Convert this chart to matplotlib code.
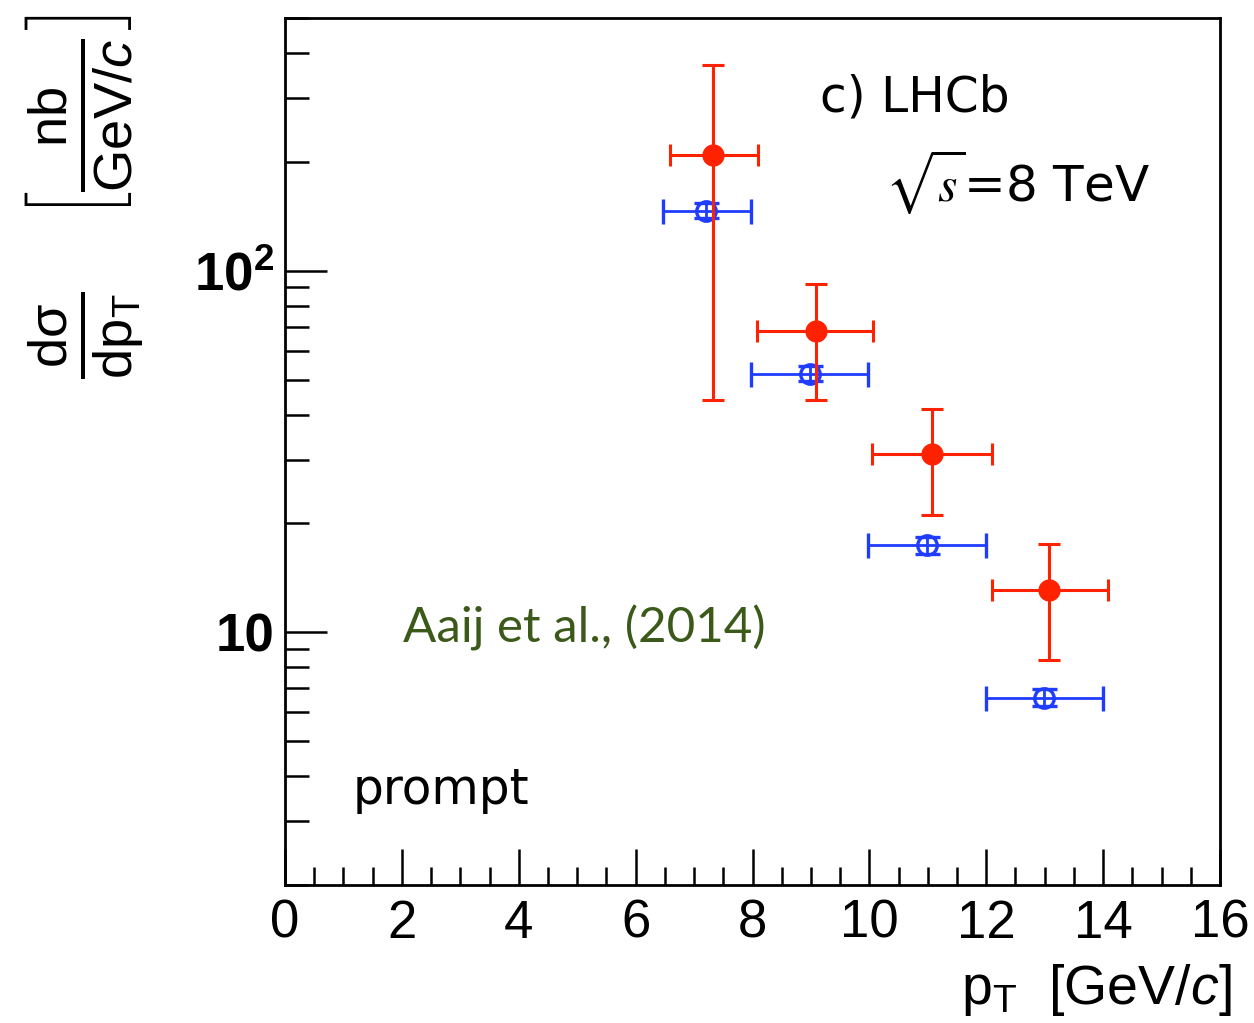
"""Prompt differential cross-section vs pT, LHCb at sqrt(s) = 8 TeV."""

import matplotlib
matplotlib.use('Agg')
import matplotlib.pyplot as plt
import numpy as np
from matplotlib.ticker import FixedLocator, FuncFormatter, LogLocator, NullFormatter

plt.rcParams['mathtext.fontset'] = 'custom'
plt.rcParams['mathtext.rm'] = 'Liberation Sans'
plt.rcParams['mathtext.it'] = 'Liberation Sans:italic'
plt.rcParams['mathtext.bf'] = 'Liberation Sans:bold'

# ── Data: measurement (filled, red) ─────────────────────────────────────────
red_pt    = np.array([7.33, 9.09, 11.08, 13.07])
red_pt_lo = np.array([6.58, 8.08, 10.05, 12.09])
red_pt_hi = np.array([8.10, 10.07, 12.10, 14.09])
red_xs    = np.array([209.0, 68.0, 31.1, 13.1])
red_xs_lo = np.array([44.0, 44.0, 21.1, 8.4])
red_xs_hi = np.array([370.0, 92.0, 41.5, 17.5])

# ── Data: comparison (open, blue) ───────────────────────────────────────────
blue_pt    = np.array([7.21, 8.99, 10.98, 12.98])
blue_pt_lo = np.array([6.47, 7.98, 9.97, 12.00])
blue_pt_hi = np.array([7.98, 9.98, 12.00, 13.99])
blue_xs    = np.array([146.6, 51.9, 17.4, 6.6])
blue_xs_lo = np.array([139.5, 49.4, 16.5, 6.25])
blue_xs_hi = np.array([154.0, 54.5, 18.3, 6.95])

x_ticks = [0, 2, 4, 6, 8, 10, 12, 14, 16]

RED  = '#ff2200'
BLUE = '#1f3cff'
W, H = 1254, 1023

fig = plt.figure(figsize=(W / 100, H / 100), dpi=100)
ax = fig.add_axes([285 / W, 1 - 885 / H, (1220 - 285) / W, (885 - 18) / H])

ax.errorbar(blue_pt, blue_xs,
            xerr=[blue_pt - blue_pt_lo, blue_pt_hi - blue_pt],
            yerr=[blue_xs - blue_xs_lo, blue_xs_hi - blue_xs],
            fmt='o', ms=14, mfc='none', mec=BLUE, mew=2.4, color=BLUE,
            elinewidth=2, capsize=9, capthick=2.2, zorder=3)
ax.errorbar(red_pt, red_xs,
            xerr=[red_pt - red_pt_lo, red_pt_hi - red_pt],
            yerr=[red_xs - red_xs_lo, red_xs_hi - red_xs],
            fmt='o', ms=15, mfc=RED, mec=RED, color=RED,
            elinewidth=2.2, capsize=8, capthick=2.2, zorder=4)

ax.set_yscale('log')
ax.set_xlim(0, 16)
ax.set_ylim(2.0, 500)

# axis styling: ticks inside, bottom/left only
for s in ax.spines.values():
    s.set_linewidth(2)
ax.xaxis.set_major_locator(FixedLocator(x_ticks))
ax.xaxis.set_minor_locator(FixedLocator(np.arange(0, 16.01, 0.5)))
ax.yaxis.set_major_locator(FixedLocator([10, 100]))
ax.yaxis.set_minor_locator(LogLocator(base=10, subs=np.arange(2, 10)))
ax.yaxis.set_minor_formatter(NullFormatter())
ax.yaxis.set_major_formatter(FuncFormatter(
    lambda v, _: '10' if v < 50 else r'10$^{\mathdefault{2}}$'))
ax.tick_params(which='both', direction='in', top=False, right=False,
               width=1.8, labelsize=38)
ax.tick_params(axis='x', which='major', length=26, pad=10)
ax.tick_params(axis='x', which='minor', length=13)
ax.tick_params(axis='y', which='major', length=30, pad=8)
ax.tick_params(axis='y', which='minor', length=17)
for lab in ax.get_xticklabels():
    lab.set_family('Liberation Sans')
for lab in ax.get_yticklabels():
    lab.set_family('Liberation Sans')
    lab.set_fontweight('bold')

# ── Annotations ─────────────────────────────────────────────────────────────
fig.text(820 / W, 1 - 97 / H, 'c) LHCb', fontsize=35, family='DejaVu Sans',
         va='center', ha='left')
fig.text(885 / W, 1 - 182 / H, r'$\sqrt{s}$=8 TeV', fontsize=36,
         family='DejaVu Sans', math_fontfamily='stix', va='center', ha='left')
fig.text(403 / W, 1 - 628 / H, 'Aaij et al., (2014)', fontsize=35.5,
         family='Lato', color='#3b5a1a', va='center', ha='left')
fig.text(353 / W, 1 - 790 / H, 'prompt', fontsize=35, family='DejaVu Sans',
         va='center', ha='left')

# axis titles
fig.text(1232 / W, 1 - 990 / H, r'$\mathrm{p}_{\mathrm{T}}$  [GeV/$c$]',
         fontsize=40, family='Liberation Sans', ha='right', va='center')
fig.text(85 / W, 1 - 197 / H,
         r'$\frac{\mathrm{dσ}}{\mathrm{dp}_{\mathrm{T}}}\quad '
         r'\left[\frac{\mathrm{nb}}{\mathrm{GeV}/c}\right]$',
         fontsize=56, rotation=90, ha='center', va='center')

fig.savefig('out.png', dpi=100)
